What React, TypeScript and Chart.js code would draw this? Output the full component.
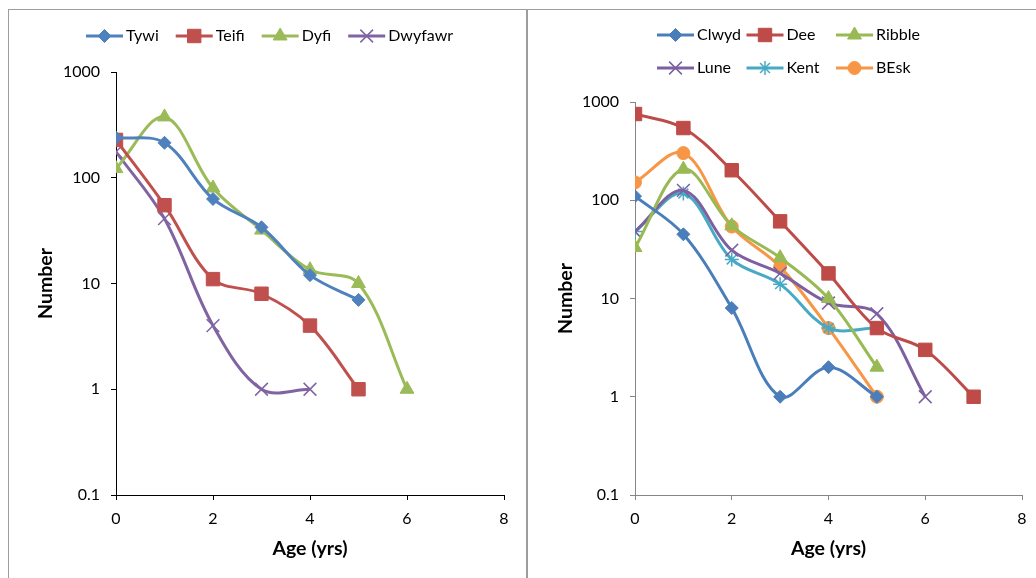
import React, { useEffect, useRef } from 'react';
import { Chart, registerables } from 'chart.js';
import { drawPoint } from 'chart.js/helpers';

Chart.register(...registerables);

// ---- data ----
const ages = [0, 1, 2, 3, 4, 5, 6, 7];
const yTickValues = [0.1, 1, 10, 100, 1000];
const xTickValues = [0, 2, 4, 6, 8];

// Left panel (Welsh rivers)
const tywi = [239, 214, 63, 34, 12, 7];
const teifi = [228, 55, 11, 8, 4, 1];
const dyfi = [122, 376, 80, 32, 13.5, 10, 1];
const dwyfawr = [176, 41, 4, 1, 1];

// Right panel
const clwyd = [110, 45, 8, 1, 2, 1];
const dee = [755, 543, 202, 61, 18, 5, 3, 1];
const ribble = [33, 207, 55, 26, 10, 2];
const lune = [48, 126, 31, 18, 9, 7, 1];
const kent = [48, 117, 25, 14, 5, 5];
const besk = [152, 302, 54, 21, 5, 1];

const FONT = 'Lato, "Open Sans", sans-serif';

type SeriesDef = {
  label: string;
  values: number[];
  color: string;
  style: string;
  radius: number;
  pbw: number;
};

const leftSeries: SeriesDef[] = [
  { label: 'Tywi', values: tywi, color: '#4F81BD', style: 'rectRot', radius: 6.5, pbw: 1 },
  { label: 'Teifi', values: teifi, color: '#C0504D', style: 'rect', radius: 9.5, pbw: 1 },
  { label: 'Dyfi', values: dyfi, color: '#9BBB59', style: 'triangle', radius: 8, pbw: 1 },
  { label: 'Dwyfawr', values: dwyfawr, color: '#8064A2', style: 'crossRot', radius: 9, pbw: 1.5 },
];

const rightSeries: SeriesDef[] = [
  { label: 'Clwyd', values: clwyd, color: '#4A7EBB', style: 'rectRot', radius: 6.5, pbw: 1 },
  { label: 'Dee', values: dee, color: '#BE4B48', style: 'rect', radius: 9.5, pbw: 1 },
  { label: 'Ribble', values: ribble, color: '#98B954', style: 'triangle', radius: 8, pbw: 1 },
  { label: 'Lune', values: lune, color: '#7D60A0', style: 'crossRot', radius: 9, pbw: 1.5 },
  { label: 'Kent', values: kent, color: '#46AAC5', style: 'star', radius: 7, pbw: 1.5 },
  { label: 'BEsk', values: besk, color: '#F79646', style: 'circle', radius: 6.5, pbw: 1 },
];

const fixedLegend = {
  id: 'fixedLegend',
  afterDraw(chart: any, _args: any, opts: any) {
    const ctx = chart.ctx as CanvasRenderingContext2D;
    ctx.save();
    ctx.font = `${opts.fontSize}px ${FONT}`;
    ctx.textBaseline = 'middle';
    ctx.textAlign = 'left';
    let flowX = opts.x;
    chart.data.datasets.forEach((ds: any, i: number) => {
      let ix: number;
      let iy: number;
      if (opts.cols) {
        ix = opts.x + (i % opts.cols) * opts.colWidth;
        iy = opts.y + Math.floor(i / opts.cols) * opts.rowHeight;
      } else {
        ix = flowX;
        iy = opts.y;
      }
      ctx.strokeStyle = ds.borderColor;
      ctx.lineWidth = ds.borderWidth;
      ctx.beginPath();
      ctx.moveTo(ix, iy);
      ctx.lineTo(ix + opts.symbolWidth, iy);
      ctx.stroke();
      ctx.fillStyle = ds.pointBackgroundColor;
      ctx.strokeStyle = ds.pointBorderColor;
      ctx.lineWidth = ds.pointBorderWidth;
      drawPoint(ctx, { pointStyle: ds.pointStyle, radius: ds.pointRadius, rotation: 0, borderWidth: ds.pointBorderWidth } as any, ix + opts.symbolWidth / 2, iy);
      ctx.fillStyle = opts.color;
      const tx = ix + opts.symbolWidth + opts.textGap;
      ctx.fillText(ds.label, tx, iy);
      flowX = tx + ctx.measureText(ds.label).width + opts.itemGap;
    });
    ctx.restore();
  },
};

function makeConfig(series: SeriesDef[], p: any) {
  const tickFont = { family: FONT, size: 16 };
  const titleFont = { family: FONT, size: 19.5, weight: 'bold' as const };
  return {
    type: 'line' as const,
    data: {
      datasets: series.map((s) => ({
        label: s.label,
        data: s.values.map((v, i) => ({ x: ages[i], y: v })),
        borderColor: s.color,
        backgroundColor: s.color,
        borderWidth: 3,
        tension: 0.35,
        pointStyle: s.style,
        pointRadius: s.radius,
        pointBackgroundColor: s.color,
        pointBorderColor: s.color,
        pointBorderWidth: s.pbw,
        fill: false,
      })),
    },
    options: {
      animation: false,
      responsive: false,
      maintainAspectRatio: false,
      events: [],
      layout: { padding: { top: p.top, right: p.right, left: 0, bottom: 0 } },
      plugins: {
        legend: { display: false },
        tooltip: { enabled: false },
        fixedLegend: p.legend,
      },
      scales: {
        x: {
          type: 'linear',
          min: 0,
          max: 8,
          afterBuildTicks: (s: any) => {
            s.ticks = xTickValues.map((v) => ({ value: v }));
          },
          afterFit: (s: any) => {
            s.height = p.xHeight;
          },
          grid: { drawOnChartArea: false, drawTicks: true, tickLength: 5, color: p.axisColor },
          border: { color: p.axisColor, width: 1 },
          ticks: { padding: 9, color: '#000', font: tickFont, maxRotation: 0 },
          title: { display: true, text: 'Age (yrs)', color: '#000', font: titleFont, padding: { top: 0, bottom: 18 } },
        },
        y: {
          type: 'logarithmic',
          min: 0.1,
          max: 1000,
          afterBuildTicks: (s: any) => {
            s.ticks = yTickValues.map((v) => ({ value: v }));
          },
          afterFit: (s: any) => {
            s.width = p.yWidth;
          },
          grid: { drawOnChartArea: false, drawTicks: true, tickLength: 5, color: p.axisColor },
          border: { color: p.axisColor, width: 1 },
          ticks: {
            padding: 11,
            color: '#000',
            font: tickFont,
            callback: (v: any) => String(v),
          },
          title: { display: true, text: 'Number', color: '#000', font: titleFont, padding: { top: p.yTitlePad, bottom: 0 } },
        },
      },
    },
    plugins: [fixedLegend],
  };
}

function ChartPanel(props: { series: SeriesDef[]; p: any; left: number; width: number }) {
  const ref = useRef<HTMLCanvasElement | null>(null);
  useEffect(() => {
    if (!ref.current) return;
    const chart = new Chart(ref.current, makeConfig(props.series, props.p) as any);
    return () => chart.destroy();
  }, []);
  return (
    <canvas
      ref={ref}
      width={props.width}
      height={578}
      style={{ position: 'absolute', left: props.left, top: 0, width: props.width, height: 578 }}
    />
  );
}

export default function App() {
  const leftP = {
    top: 72,
    right: 23,
    xHeight: 83,
    yWidth: 116,
    yTitlePad: 34,
    axisColor: '#000',
    legend: { x: 86, y: 36, symbolWidth: 37, textGap: 3, itemGap: 17, fontSize: 16, color: '#000' },
  };
  const rightP = {
    top: 102,
    right: 14,
    xHeight: 83,
    yWidth: 108,
    yTitlePad: 27,
    axisColor: '#868686',
    legend: { x: 130, y: 35, symbolWidth: 37, textGap: 3, itemGap: 17, fontSize: 16, color: '#000', cols: 3, colWidth: 89.5, rowHeight: 33 },
  };
  return (
    <div style={{ position: 'fixed', left: 0, top: 0, width: 1036, height: 578, overflow: 'hidden', background: '#fff' }}>
      <div style={{ position: 'absolute', left: 8, top: 9, width: 517, height: 600, borderLeft: '1px solid #9d9d9d', borderTop: '1px solid #9d9d9d', borderRight: '1px solid #9d9d9d' }} />
      <div style={{ position: 'absolute', left: 527, top: 9, width: 520, height: 600, borderLeft: '1px solid #9d9d9d', borderTop: '1px solid #9d9d9d' }} />
      <ChartPanel series={leftSeries} p={leftP} left={0} width={527} />
      <ChartPanel series={rightSeries} p={rightP} left={527} width={509} />
    </div>
  );
}
